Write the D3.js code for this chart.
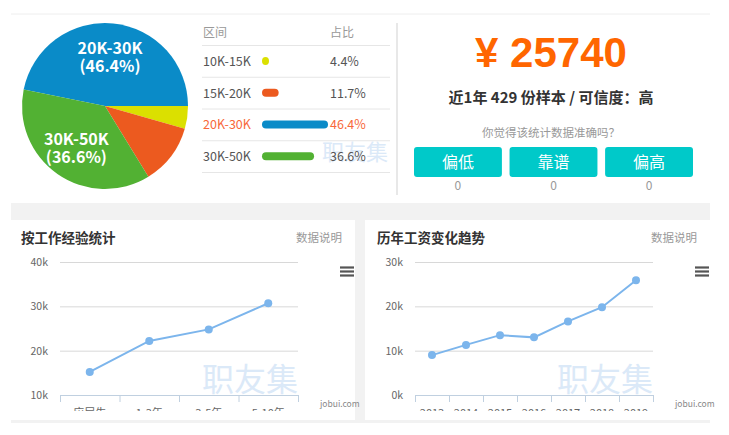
<!DOCTYPE html>
<html>
<head>
<meta charset="utf-8">
<script src="https://cdn.jsdelivr.net/npm/d3@7"></script>
<style>
  html, body { margin: 0; padding: 0; background: #fff; }
  svg text { font-family: "Microsoft YaHei", "Noto Sans CJK SC", sans-serif; }
</style>
</head>
<body>
<div id="vis"></div>
<script>
// -------------------------------- Datos ------------------------------
const ranges = ["10K-15K", "15K-20K", "20K-30K", "30K-50K"];
const shares = [4.4, 11.7, 46.4, 36.6];
const pieOrder = ["10K-15K", "15K-20K", "30K-50K", "20K-30K"];  // sentido horario desde las 3
const highlightRange = "20K-30K";

const avgSalary = 25740;
const sampleText = "近1年 429 份样本 / 可信度：高";
const question = "你觉得该统计数据准确吗？";
const votes = ["偏低", "靠谱", "偏高"];
const voteCounts = [0, 0, 0];

const expLabels = ["应届生", "1-3年", "3-5年", "5-10年"];
const expValues = [15.2, 22.2, 24.8, 30.7];   // en k
const expTicks = [10, 20, 30, 40];

const years = ["2013", "2014", "2015", "2016", "2017", "2018", "2019"];
const yearValues = [9.0, 11.3, 13.5, 13.0, 16.6, 19.8, 25.9];  // en k
const yearTicks = [0, 10, 20, 30];

// -------------------------------- Estilos ----------------------------
const W = 729, H = 435;
const COLORS = ["#dbe000", "#ec5a1f", "#0a8bc8", "#52b133"];
const LINE = "#7cb5ec";
const ORANGE = "#ff6600";
const MARK = "#dbe9f8";

const svg = d3.select("#vis").append("svg")
  .attr("width", W).attr("height", H);

// linea superior
svg.append("line")
  .attr("x1", 11).attr("x2", 710).attr("y1", 14).attr("y2", 14)
  .attr("stroke", "#eeeeee");

// -------------------------------- Pie -------------------------------
const pieData = ranges.map((r, i) => ({range: r, share: shares[i], color: COLORS[i]}));
const pie = d3.pie().value(d => d.share)
  .sort((a, b) => pieOrder.indexOf(a.range) - pieOrder.indexOf(b.range))
  .startAngle(Math.PI / 2).endAngle(Math.PI / 2 + 2 * Math.PI);
const R = 83;
const arc = d3.arc().innerRadius(0).outerRadius(R);
const labelArc = d3.arc().innerRadius(50).outerRadius(50);

const gPie = svg.append("g").attr("transform", "translate(105,106)");
const slices = pie(pieData);
gPie.selectAll("path").data(slices).enter().append("path")
  .attr("d", arc)
  .attr("fill", d => d.data.color);

gPie.selectAll(".plabel").data(slices.filter(d => d.data.share > 20)).enter()
  .append("text")
  .attr("class", "plabel")
  .attr("text-anchor", "middle")
  .attr("fill", "#fff")
  .attr("font-size", 16)
  .attr("font-weight", "bold")
  .each(function(d) {
    const c = labelArc.centroid(d);
    const t = d3.select(this);
    t.append("tspan").attr("x", c[0]).attr("y", c[1] - 2).text(d.data.range);
    t.append("tspan").attr("x", c[0]).attr("y", c[1] + 16).text("(" + d.data.share + "%)");
  });

// -------------------------------- Tabla -----------------------------
const rowY = d3.scaleBand().domain(ranges).range([45, 172]);
const barX = d3.scaleLinear().domain([0, d3.max(shares)]).range([0, 66]);
const gTab = svg.append("g");

gTab.append("text").attr("x", 203).attr("y", 37).attr("font-size", 12)
  .attr("fill", "#999").text("区间");
gTab.append("text").attr("x", 330).attr("y", 37).attr("font-size", 12)
  .attr("fill", "#999").text("占比");

gTab.selectAll(".sep").data([45].concat(ranges.map(r => rowY(r) + rowY.bandwidth())))
  .enter().append("line")
  .attr("x1", 202).attr("x2", 390)
  .attr("y1", d => d + 0.5).attr("y2", d => d + 0.5)
  .attr("stroke", "#e6e6e6");

// marca de agua
gTab.append("text").attr("x", 322).attr("y", 160).attr("font-size", 22)
  .attr("fill", MARK).text("职友集");

const rows = gTab.selectAll(".row").data(pieData).enter().append("g")
  .attr("transform", d => `translate(0,${rowY(d.range) + rowY.bandwidth() / 2})`);

rows.append("text").attr("x", 203).attr("y", 5).attr("font-size", 12.5)
  .attr("fill", d => d.range === highlightRange ? "#f8683a" : "#555")
  .text(d => d.range);
rows.append("rect")
  .attr("x", 262).attr("y", -4).attr("height", 8)
  .attr("rx", 4)
  .attr("width", d => Math.max(7, barX(d.share)))
  .attr("fill", d => d.color);
rows.append("text").attr("x", 330).attr("y", 5).attr("font-size", 12.5)
  .attr("fill", d => d.range === highlightRange ? "#f8683a" : "#555")
  .text(d => d.share + "%");

// divisor
svg.append("line").attr("x1", 397).attr("x2", 397).attr("y1", 23).attr("y2", 195)
  .attr("stroke", "#e8e8e8").attr("stroke-width", 2);

// -------------------------------- Salario ---------------------------
const cx = 551;
svg.append("text").attr("x", cx).attr("y", 67).attr("text-anchor", "middle")
  .attr("font-size", 42).attr("font-weight", "bold").attr("fill", ORANGE)
  .style("font-family", "'Liberation Sans', Arial, sans-serif")
  .text("¥ " + avgSalary);
svg.append("text").attr("x", cx).attr("y", 103).attr("text-anchor", "middle")
  .attr("font-size", 15).attr("font-weight", "bold").attr("fill", "#333")
  .text(sampleText);
svg.append("text").attr("x", cx).attr("y", 137).attr("text-anchor", "middle")
  .attr("font-size", 11.5).attr("fill", "#999")
  .text(question);

const btnX = d3.scaleBand().domain(votes).range([414, 693]).paddingInner(0.08).paddingOuter(0);
const btn = svg.selectAll(".btn").data(votes).enter().append("g");
btn.append("rect")
  .attr("x", d => btnX(d)).attr("y", 147)
  .attr("width", btnX.bandwidth()).attr("height", 30)
  .attr("rx", 3).attr("fill", "#00c9c9");
btn.append("text")
  .attr("x", d => btnX(d) + btnX.bandwidth() / 2).attr("y", 168)
  .attr("text-anchor", "middle").attr("font-size", 16).attr("fill", "#fff")
  .text(d => d);
btn.append("text")
  .attr("x", d => btnX(d) + btnX.bandwidth() / 2).attr("y", 190)
  .attr("text-anchor", "middle").attr("font-size", 12).attr("fill", "#999")
  .text((d, i) => voteCounts[i]);

// -------------------------------- Lineas ----------------------------
svg.append("rect").attr("x", 11).attr("y", 203).attr("width", 699).attr("height", 220)
  .attr("fill", "#f2f2f2");

function lineChart(opt) {
  const g = svg.append("g").attr("transform", `translate(${opt.x},220)`);
  g.append("rect").attr("width", opt.w).attr("height", 200).attr("fill", "#fff");

  g.append("text").attr("x", opt.titleX).attr("y", 23).attr("font-size", 13.5)
    .attr("font-weight", "bold").attr("fill", "#333").text(opt.title);
  g.append("text").attr("x", opt.w - 13).attr("y", 22).attr("font-size", 11.5)
    .attr("text-anchor", "end").attr("fill", "#999").text("数据说明");

  const clipId = "clip" + opt.x;
  g.append("clipPath").attr("id", clipId)
    .append("rect").attr("x", 0).attr("y", 0).attr("width", opt.w).attr("height", 191);
  const c = g.append("g").attr("clip-path", `url(#${clipId})`);

  const x = d3.scaleBand().domain(opt.labels).range([opt.left, opt.left + 238]);
  const y = d3.scaleLinear().domain(d3.extent(opt.ticks)).range([175, 42]);

  // rejilla
  const yAxis = d3.axisLeft(y).tickValues(opt.ticks).tickSize(-238)
    .tickFormat(d => d + "k");
  const ya = c.append("g").attr("transform", `translate(${opt.left},0)`).call(yAxis);
  ya.select(".domain").remove();
  ya.selectAll(".tick line").attr("stroke", "#d8d8d8");
  ya.selectAll(".tick").filter(d => d === opt.ticks[0]).select("line").remove();
  ya.selectAll(".tick text").attr("x", -12).attr("fill", "#666").attr("font-size", 10.5)
    .style("font-family", "'Microsoft YaHei', 'Noto Sans CJK SC', sans-serif");

  // marca de agua
  c.append("text").attr("x", opt.left + 142).attr("y", 171).attr("font-size", 32)
    .attr("fill", MARK).text("职友集");

  const xAxis = d3.axisBottom(x).tickSize(0).tickPadding(14);
  const xa = c.append("g").attr("transform", "translate(0,175)").call(xAxis);
  xa.select(".domain").attr("stroke", "#c0d0e0");
  xa.selectAll(".tick text").attr("fill", "#666").attr("font-size", 11)
    .style("font-family", "'Microsoft YaHei', 'Noto Sans CJK SC', sans-serif");
  const edges = x.domain().map(d => x(d)).concat([opt.left + 238]);
  xa.selectAll(".edge").data(edges).enter().append("line")
    .attr("x1", d => d + 0.5).attr("x2", d => d + 0.5).attr("y1", 0).attr("y2", 7)
    .attr("stroke", "#c0d0e0");

  const line = d3.line()
    .x((d, i) => x(opt.labels[i]) + x.bandwidth() / 2)
    .y(d => y(d));
  c.append("path").datum(opt.values).attr("d", line)
    .attr("fill", "none").attr("stroke", LINE).attr("stroke-width", 2);
  c.selectAll(".pt").data(opt.values).enter().append("circle")
    .attr("cx", (d, i) => x(opt.labels[i]) + x.bandwidth() / 2)
    .attr("cy", d => y(d)).attr("r", 4).attr("fill", LINE);

  // menu
  g.selectAll(".menu").data([0, 4, 8]).enter().append("line")
    .attr("x1", opt.w - 15).attr("x2", opt.w - 1)
    .attr("y1", d => 47.5 + d).attr("y2", d => 47.5 + d)
    .attr("stroke", "#555").attr("stroke-width", 2.2);

  g.append("text").attr("x", opt.w - 35).attr("y", 187).attr("font-size", 8.5)
    .attr("fill", "#888").text("jobui.com");
}

lineChart({x: 11, w: 344, left: 49, titleX: 10, title: "按工作经验统计",
  labels: expLabels, values: expValues, ticks: expTicks});
lineChart({x: 365, w: 345, left: 50, titleX: 12, title: "历年工资变化趋势",
  labels: years, values: yearValues, ticks: yearTicks});
</script>
</body>
</html>
